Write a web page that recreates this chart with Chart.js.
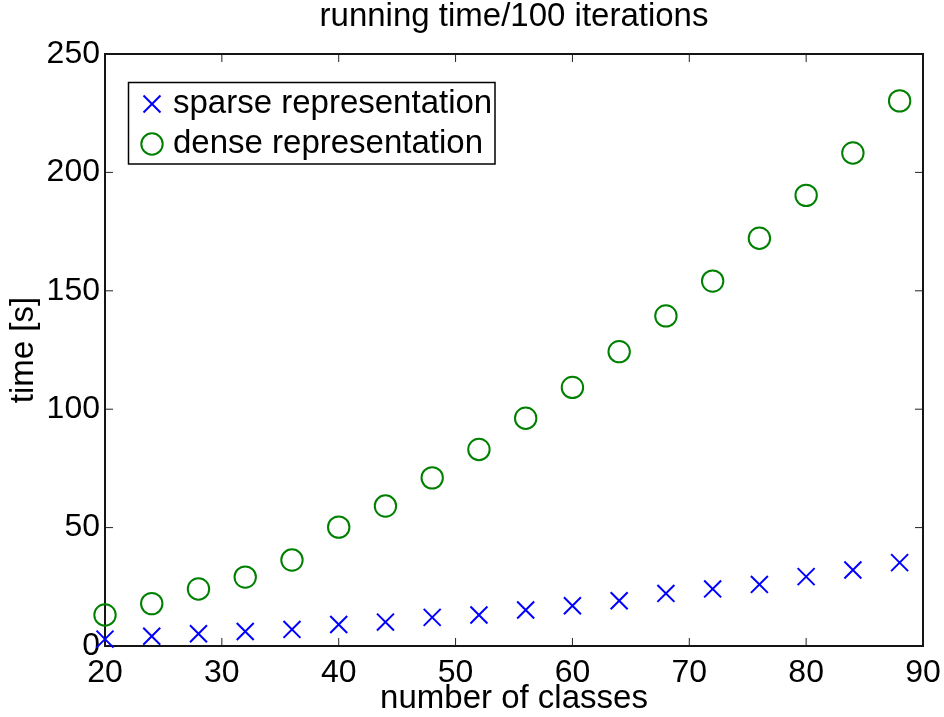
<!DOCTYPE html>
<html>
<head>
<meta charset="utf-8">
<script src="https://cdn.jsdelivr.net/npm/chart.js@4.4.0/dist/chart.umd.min.js"></script>
<style>
html,body{margin:0;padding:0;background:#ffffff;}
#wrap{width:944px;height:717px;}
</style>
</head>
<body>
<div id="wrap"><canvas id="c" width="944" height="717"></canvas></div>
<script>
// ---- data ----
const classes = [20, 24, 28, 32, 36, 40, 44, 48, 52, 56, 60, 64, 68, 72, 76, 80, 84, 88];
const sparseTime = [2.9, 4.1, 5.2, 6.1, 7.0, 9.1, 10.1, 12.1, 13.1, 15.2, 17.0, 19.1, 22.2, 24.1, 26.0, 29.3, 32.1, 35.2];
const denseTime = [13.1, 17.9, 24.1, 29.1, 36.3, 50.2, 59.1, 71.0, 83.0, 96.2, 109.2, 124.3, 139.4, 154.1, 172.2, 190.3, 208.2, 230.2];
const xTickValues = [20, 30, 40, 50, 60, 70, 80, 90];
const yTickValues = [0, 50, 100, 150, 200, 250];
const seriesLabels = ['sparse representation', 'dense representation'];
const titleText = 'running time/100 iterations';
const xTitleText = 'number of classes';
const yTitleText = 'time [s]';

const FONT = 'Liberation Sans, Arial, Helvetica, sans-serif';
const FS = 33;
const TFS = 32;

const framePlugin = {
  id: 'matlabFrame',
  beforeDatasetsDraw(chart) {
    const {ctx, chartArea: a, scales} = chart;
    ctx.save();
    ctx.strokeStyle = '#222222';
    ctx.lineWidth = 1;
    const tl = 8;
    scales.x.ticks.forEach(t => {
      const px = scales.x.getPixelForValue(t.value);
      ctx.beginPath();
      ctx.moveTo(px, a.bottom); ctx.lineTo(px, a.bottom - tl);
      ctx.moveTo(px, a.top); ctx.lineTo(px, a.top + tl);
      ctx.stroke();
    });
    scales.y.ticks.forEach(t => {
      const py = scales.y.getPixelForValue(t.value);
      ctx.beginPath();
      ctx.moveTo(a.left, py); ctx.lineTo(a.left + tl, py);
      ctx.moveTo(a.right, py); ctx.lineTo(a.right - tl, py);
      ctx.stroke();
    });
    ctx.strokeStyle = '#151515';
    ctx.lineWidth = 2;
    ctx.strokeRect(a.left, a.top, a.right - a.left, a.bottom - a.top);
    ctx.restore();
  },
  afterDraw(chart) {
    const {ctx} = chart;
    const bx = 128.5, by = 82.5, bw = 366.5, bh = 81.5;
    ctx.save();
    ctx.strokeStyle = '#000000';
    ctx.lineWidth = 1.5;
    ctx.strokeRect(bx, by, bw, bh);
    const rows = [104, 144];
    chart.data.datasets.forEach((ds, i) => {
      const y = rows[i];
      ctx.strokeStyle = ds.borderColor;
      ctx.fillStyle = 'rgba(0,0,0,0)';
      ctx.lineWidth = ds.pointBorderWidth;
      Chart.helpers.drawPoint(ctx, {pointStyle: ds.pointStyle, radius: ds.pointRadius, rotation: 0, borderWidth: ds.pointBorderWidth}, 152, y);
      ctx.fillStyle = '#000000';
      ctx.font = FS + 'px ' + FONT;
      ctx.textBaseline = 'middle';
      ctx.textAlign = 'left';
      ctx.fillText(ds.label, 173, y);
    });
    ctx.restore();
  }
};

new Chart(document.getElementById('c'), {
  type: 'scatter',
  data: {
    datasets: [
      {
        label: seriesLabels[0],
        data: classes.map((x, i) => ({x: x, y: sparseTime[i]})),
        pointStyle: 'crossRot',
        pointRadius: 12,
        pointBorderWidth: 2,
        borderColor: '#0000ff',
        backgroundColor: '#0000ff',
        showLine: false,
        clip: false
      },
      {
        label: seriesLabels[1],
        data: classes.map((x, i) => ({x: x, y: denseTime[i]})),
        pointStyle: 'circle',
        pointRadius: 10.7,
        pointBorderWidth: 2,
        borderColor: '#008000',
        backgroundColor: 'rgba(0,0,0,0)',
        showLine: false,
        clip: false
      }
    ]
  },
  options: {
    responsive: false,
    animation: false,
    events: [],
    devicePixelRatio: 1,
    layout: {padding: {left: 0, top: 0, right: 21, bottom: 0}},
    plugins: {
      legend: {display: false},
      tooltip: {enabled: false},
      title: {
        display: true,
        text: titleText,
        fullSize: false,
        color: '#000000',
        font: {family: FONT, size: FS, weight: 'normal', lineHeight: 1},
        padding: {top: 0, bottom: 54 - FS}
      }
    },
    scales: {
      x: {
        type: 'linear',
        min: 20, max: 90,
        afterBuildTicks: s => { s.ticks = xTickValues.map(v => ({value: v})); },
        afterFit: s => { s.height = 71; s.paddingRight = 0; s.paddingLeft = 0; },
        grid: {display: false, drawTicks: false},
        border: {display: false},
        ticks: {
          autoSkip: false, maxRotation: 0, padding: 11,
          color: '#000000',
          font: {family: FONT, size: TFS, lineHeight: 1}
        },
        title: {
          display: true, text: xTitleText, color: '#000000',
          font: {family: FONT, size: FS, lineHeight: 1},
          padding: {top: 0, bottom: 2}
        }
      },
      y: {
        type: 'linear',
        min: 0, max: 250,
        afterBuildTicks: s => { s.ticks = yTickValues.map(v => ({value: v})); },
        afterFit: s => { s.width = 105; s.paddingTop = 0; s.paddingBottom = 0; },
        grid: {display: false, drawTicks: false},
        border: {display: false},
        ticks: {
          autoSkip: false, padding: 5,
          color: '#000000',
          font: {family: FONT, size: TFS, lineHeight: 1}
        },
        title: {
          display: true, text: yTitleText, color: '#000000',
          font: {family: FONT, size: FS, lineHeight: 1},
          padding: {top: 7, bottom: 0}
        }
      }
    }
  },
  plugins: [framePlugin]
});
</script>
</body>
</html>
